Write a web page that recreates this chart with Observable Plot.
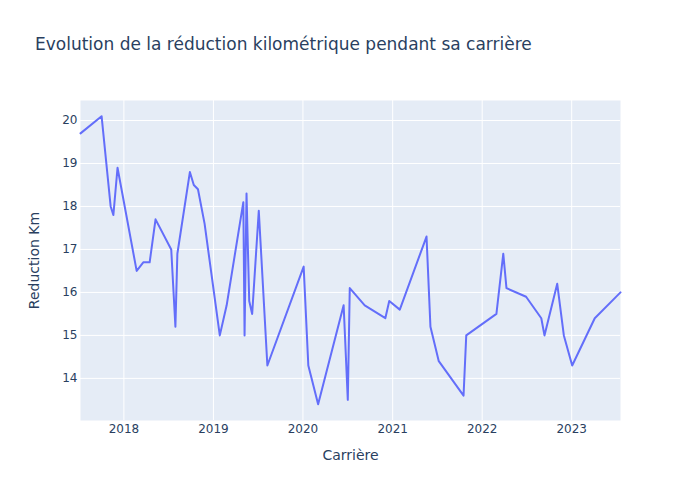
<!DOCTYPE html>
<html>
<head>
<meta charset="utf-8">
<script src="https://cdn.jsdelivr.net/npm/d3@7"></script>
<script src="https://cdn.jsdelivr.net/npm/@observablehq/plot@0.6"></script>
<style>
  body { margin: 0; background: #fff; font-family: "DejaVu Sans", sans-serif; }
  #title { height: 70px; box-sizing: border-box; padding-top: 34px; padding-left: 35px;
           font-size: 17px; line-height: 20px; color: #2a3f5f; white-space: nowrap; }
</style>
</head>
<body>
<div id="title">Evolution de la réduction kilométrique pendant sa carrière</div>
<div id="chart"></div>
<script>
const dates = [
  "2017-07-08","2017-10-02","2017-11-08","2017-11-19","2017-12-06",
  "2018-02-22","2018-03-21","2018-04-16","2018-05-10","2018-07-13",
  "2018-07-30","2018-08-07","2018-09-27","2018-10-13","2018-10-30",
  "2018-11-26","2019-01-27","2019-02-24","2019-05-03","2019-05-08",
  "2019-05-16","2019-05-27","2019-06-08","2019-07-05","2019-08-09",
  "2020-01-04","2020-01-23","2020-03-03","2020-06-15","2020-07-02",
  "2020-07-10","2020-09-09","2020-12-02","2020-12-18","2021-01-30",
  "2021-05-19","2021-06-04","2021-07-08","2021-10-17","2021-10-28",
  "2022-02-28","2022-03-28","2022-04-10","2022-06-29","2022-08-30",
  "2022-09-12","2022-11-03","2022-11-30","2023-01-03","2023-04-05",
  "2023-07-19"
];
const reductions = [
  19.7, 20.1, 18.0, 17.8, 18.9,
  16.5, 16.7, 16.7, 17.7, 17.0,
  15.2, 16.9, 18.8, 18.5, 18.4,
  17.6, 15.0, 15.7, 18.1, 15.0,
  18.3, 15.8, 15.5, 17.9, 14.3,
  16.6, 14.3, 13.4, 15.7, 13.5,
  16.1, 15.7, 15.4, 15.8, 15.6,
  17.3, 15.2, 14.4, 13.6, 15.0,
  15.5, 16.9, 16.1, 15.9, 15.4,
  15.0, 16.2, 15.0, 14.3, 15.4,
  16.0
];
const yTicks = [14, 15, 16, 17, 18, 19, 20];
const xTickYears = ["2018", "2019", "2020", "2021", "2022", "2023"];
const xLabel = "Carrière";
const yLabel = "Reduction Km";

const data = dates.map((d, i) => ({date: new Date(d + "T00:00:00Z"), value: reductions[i]}));
const xTicks = xTickYears.map(y => new Date(y + "-01-01T00:00:00Z"));

const textColor = "#2a3f5f";
const chart = Plot.plot({
  width: 700,
  height: 430,
  marginTop: 30,
  marginBottom: 80,
  marginLeft: 80,
  marginRight: 80,
  style: {fontFamily: "DejaVu Sans, sans-serif", fontSize: "12px", color: textColor, background: "#fff"},
  x: {type: "utc", domain: [data[0].date, data[data.length - 1].date]},
  y: {domain: [13.02, 20.465]},
  marks: [
    Plot.frame({fill: "#E5ECF6", stroke: null}),
    Plot.gridX(xTicks, {stroke: "#fff", strokeOpacity: 1, strokeWidth: 1}),
    Plot.gridY(yTicks, {stroke: "#fff", strokeOpacity: 1, strokeWidth: 1}),
    Plot.axisX(xTicks, {tickSize: 0, tickPadding: 4, tickFormat: d3.utcFormat("%Y"), label: null, fill: textColor, fontSize: 12}),
    Plot.axisY(yTicks, {tickSize: 0, tickPadding: 3, label: null, fill: textColor, fontSize: 12}),
    Plot.line(data, {x: "date", y: "value", stroke: "#636efa", strokeWidth: 2}),
    Plot.text([xLabel], {frameAnchor: "bottom", dy: 35, lineAnchor: "middle", textAnchor: "middle", text: d => d, fill: textColor, fontSize: 14}),
    Plot.text([yLabel], {frameAnchor: "left", dx: -46, rotate: -90, lineAnchor: "middle", textAnchor: "middle", text: d => d, fill: textColor, fontSize: 14})
  ]
});
document.getElementById("chart").appendChild(chart);
</script>
</body>
</html>
